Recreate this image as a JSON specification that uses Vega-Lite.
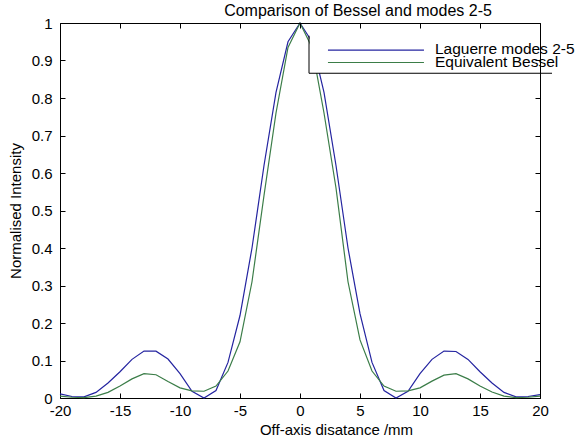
{
  "$schema": "https://vega.github.io/schema/vega-lite/v6.json",
  "width": 480,
  "height": 375,
  "autosize": "none",
  "padding": {"left": 60, "top": 23, "right": 36, "bottom": 47},
  "background": "white",
  "config": {
    "view": {"stroke": null},
    "font": "Liberation Sans",
    "axis": {
      "domainColor": "black", "domainWidth": 1, "tickColor": "black", "tickWidth": 1,
      "tickSize": -5, "grid": false, "labelColor": "black", "labelFontSize": 15,
      "titleColor": "black", "titleFontWeight": "normal", "titleFontSize": 15, "labelFont": "Liberation Sans", "titleFont": "Liberation Sans"
    }
  },
  "title": {"text": "Comparison of Bessel and modes 2-5", "fontSize": 16, "fontWeight": "normal", "color": "black", "font": "Liberation Sans", "anchor": "middle", "dx": 58, "offset": -3},
  "datasets": {
    "curves": [
    {"x": -20, "y": 0.011, "series": "Laguerre modes 2-5"},
    {"x": -19, "y": 0.004, "series": "Laguerre modes 2-5"},
    {"x": -18, "y": 0.003, "series": "Laguerre modes 2-5"},
    {"x": -17, "y": 0.015, "series": "Laguerre modes 2-5"},
    {"x": -16, "y": 0.04, "series": "Laguerre modes 2-5"},
    {"x": -15, "y": 0.07, "series": "Laguerre modes 2-5"},
    {"x": -14, "y": 0.103, "series": "Laguerre modes 2-5"},
    {"x": -13, "y": 0.125, "series": "Laguerre modes 2-5"},
    {"x": -12, "y": 0.125, "series": "Laguerre modes 2-5"},
    {"x": -11, "y": 0.104, "series": "Laguerre modes 2-5"},
    {"x": -10, "y": 0.065, "series": "Laguerre modes 2-5"},
    {"x": -9, "y": 0.018, "series": "Laguerre modes 2-5"},
    {"x": -8, "y": 0.0, "series": "Laguerre modes 2-5"},
    {"x": -7, "y": 0.02, "series": "Laguerre modes 2-5"},
    {"x": -6, "y": 0.095, "series": "Laguerre modes 2-5"},
    {"x": -5, "y": 0.22, "series": "Laguerre modes 2-5"},
    {"x": -4, "y": 0.4, "series": "Laguerre modes 2-5"},
    {"x": -3, "y": 0.62, "series": "Laguerre modes 2-5"},
    {"x": -2, "y": 0.815, "series": "Laguerre modes 2-5"},
    {"x": -1, "y": 0.95, "series": "Laguerre modes 2-5"},
    {"x": 0, "y": 1.0, "series": "Laguerre modes 2-5"},
    {"x": 1, "y": 0.95, "series": "Laguerre modes 2-5"},
    {"x": 2, "y": 0.815, "series": "Laguerre modes 2-5"},
    {"x": 3, "y": 0.62, "series": "Laguerre modes 2-5"},
    {"x": 4, "y": 0.4, "series": "Laguerre modes 2-5"},
    {"x": 5, "y": 0.225, "series": "Laguerre modes 2-5"},
    {"x": 6, "y": 0.095, "series": "Laguerre modes 2-5"},
    {"x": 7, "y": 0.02, "series": "Laguerre modes 2-5"},
    {"x": 8, "y": 0.0, "series": "Laguerre modes 2-5"},
    {"x": 9, "y": 0.018, "series": "Laguerre modes 2-5"},
    {"x": 10, "y": 0.065, "series": "Laguerre modes 2-5"},
    {"x": 11, "y": 0.103, "series": "Laguerre modes 2-5"},
    {"x": 12, "y": 0.125, "series": "Laguerre modes 2-5"},
    {"x": 13, "y": 0.124, "series": "Laguerre modes 2-5"},
    {"x": 14, "y": 0.103, "series": "Laguerre modes 2-5"},
    {"x": 15, "y": 0.07, "series": "Laguerre modes 2-5"},
    {"x": 16, "y": 0.04, "series": "Laguerre modes 2-5"},
    {"x": 17, "y": 0.015, "series": "Laguerre modes 2-5"},
    {"x": 18, "y": 0.003, "series": "Laguerre modes 2-5"},
    {"x": 19, "y": 0.004, "series": "Laguerre modes 2-5"},
    {"x": 20, "y": 0.009, "series": "Laguerre modes 2-5"},
    {"x": -20, "y": 0.005, "series": "Equivalent Bessel"},
    {"x": -19, "y": 0.002, "series": "Equivalent Bessel"},
    {"x": -18, "y": 0.001, "series": "Equivalent Bessel"},
    {"x": -17, "y": 0.005, "series": "Equivalent Bessel"},
    {"x": -16, "y": 0.015, "series": "Equivalent Bessel"},
    {"x": -15, "y": 0.032, "series": "Equivalent Bessel"},
    {"x": -14, "y": 0.051, "series": "Equivalent Bessel"},
    {"x": -13, "y": 0.065, "series": "Equivalent Bessel"},
    {"x": -12, "y": 0.062, "series": "Equivalent Bessel"},
    {"x": -11, "y": 0.044, "series": "Equivalent Bessel"},
    {"x": -10, "y": 0.027, "series": "Equivalent Bessel"},
    {"x": -9, "y": 0.019, "series": "Equivalent Bessel"},
    {"x": -8, "y": 0.018, "series": "Equivalent Bessel"},
    {"x": -7, "y": 0.032, "series": "Equivalent Bessel"},
    {"x": -6, "y": 0.072, "series": "Equivalent Bessel"},
    {"x": -5, "y": 0.15, "series": "Equivalent Bessel"},
    {"x": -4, "y": 0.31, "series": "Equivalent Bessel"},
    {"x": -3, "y": 0.54, "series": "Equivalent Bessel"},
    {"x": -2, "y": 0.76, "series": "Equivalent Bessel"},
    {"x": -1, "y": 0.935, "series": "Equivalent Bessel"},
    {"x": 0, "y": 1.0, "series": "Equivalent Bessel"},
    {"x": 1, "y": 0.935, "series": "Equivalent Bessel"},
    {"x": 2, "y": 0.76, "series": "Equivalent Bessel"},
    {"x": 3, "y": 0.56, "series": "Equivalent Bessel"},
    {"x": 4, "y": 0.31, "series": "Equivalent Bessel"},
    {"x": 5, "y": 0.155, "series": "Equivalent Bessel"},
    {"x": 6, "y": 0.072, "series": "Equivalent Bessel"},
    {"x": 7, "y": 0.032, "series": "Equivalent Bessel"},
    {"x": 8, "y": 0.018, "series": "Equivalent Bessel"},
    {"x": 9, "y": 0.019, "series": "Equivalent Bessel"},
    {"x": 10, "y": 0.027, "series": "Equivalent Bessel"},
    {"x": 11, "y": 0.045, "series": "Equivalent Bessel"},
    {"x": 12, "y": 0.061, "series": "Equivalent Bessel"},
    {"x": 13, "y": 0.065, "series": "Equivalent Bessel"},
    {"x": 14, "y": 0.051, "series": "Equivalent Bessel"},
    {"x": 15, "y": 0.032, "series": "Equivalent Bessel"},
    {"x": 16, "y": 0.016, "series": "Equivalent Bessel"},
    {"x": 17, "y": 0.005, "series": "Equivalent Bessel"},
    {"x": 18, "y": 0.001, "series": "Equivalent Bessel"},
    {"x": 19, "y": 0.002, "series": "Equivalent Bessel"},
    {"x": 20, "y": 0.005, "series": "Equivalent Bessel"}
    ],
    "one": [{}]
  },
  "layer": [
    {
      "data": {"name": "curves"},
      "mark": {"type": "line", "strokeWidth": 1.2},
      "encoding": {
        "x": {"field": "x", "type": "quantitative", "scale": {"domain": [-20, 20], "nice": false, "zero": false},
              "axis": {"orient": "bottom", "values": [-20, -15, -10, -5, 0, 5, 10, 15, 20], "labelExpr": "datum.value + ''", "labelPadding": 10, "title": "Off-axis disatance /mm", "titlePadding": 4, "titleX": 276, "labelFlush": false}},
        "y": {"field": "y", "type": "quantitative", "scale": {"domain": [0, 1], "nice": false},
              "axis": {"orient": "left", "values": [0, 0.1, 0.2, 0.3, 0.4, 0.5, 0.6, 0.7, 0.8, 0.9, 1], "labelExpr": "datum.value + ''", "labelPadding": 13, "title": "Normalised Intensity", "titlePadding": 8, "labelFlush": false}},
        "color": {"field": "series", "type": "nominal",
                  "scale": {"domain": ["Laguerre modes 2-5", "Equivalent Bessel"], "range": ["#2424a0", "#3b7d48"]},
                  "legend": null}
      }
    },
    {
      "data": {"name": "curves"},
      "mark": {"type": "line", "opacity": 0},
      "encoding": {
        "x": {"field": "x", "type": "quantitative", "axis": {"orient": "top", "values": [-20, -15, -10, -5, 0, 5, 10, 15, 20], "labels": false, "title": null, "zindex": 1}},
        "y": {"field": "y", "type": "quantitative", "axis": {"orient": "right", "values": [0, 0.1, 0.2, 0.3, 0.4, 0.5, 0.6, 0.7, 0.8, 0.9, 1], "labels": false, "title": null, "zindex": 1}},
        "detail": {"field": "series"}
      }
    },
    {
      "data": {"name": "one"},
      "mark": {"type": "rect", "fill": "white"},
      "encoding": {
        "x": {"datum": 0.8, "type": "quantitative", "axis": null},
        "x2": {"datum": 21.0},
        "y": {"datum": 0.866, "type": "quantitative", "axis": null},
        "y2": {"datum": 0.966}
      }
    },
    {
      "data": {"name": "one"},
      "mark": {"type": "rule", "color": "black", "strokeWidth": 1},
      "encoding": {
        "x": {"datum": 0.75, "type": "quantitative", "axis": null},
        "y": {"datum": 0.866, "type": "quantitative", "axis": null},
        "y2": {"datum": 0.966}
      }
    },
    {
      "data": {"name": "one"},
      "mark": {"type": "rule", "color": "black", "strokeWidth": 1},
      "encoding": {
        "x": {"datum": 0.75, "type": "quantitative", "axis": null},
        "x2": {"datum": 21.0},
        "y": {"datum": 0.866, "type": "quantitative", "axis": null}
      }
    },
    {
      "data": {"name": "one"},
      "mark": {"type": "rule", "color": "#2424a0", "strokeWidth": 1.2},
      "encoding": {
        "x": {"datum": 2.33, "type": "quantitative", "axis": null},
        "x2": {"datum": 10.33},
        "y": {"datum": 0.9275, "type": "quantitative", "axis": null}
      }
    },
    {
      "data": {"name": "one"},
      "mark": {"type": "rule", "color": "#3b7d48", "strokeWidth": 1.2},
      "encoding": {
        "x": {"datum": 2.33, "type": "quantitative", "axis": null},
        "x2": {"datum": 10.33},
        "y": {"datum": 0.8947, "type": "quantitative", "axis": null}
      }
    },
    {
      "data": {"name": "one"},
      "mark": {"type": "text", "align": "left", "baseline": "middle", "fontSize": 15.5, "font": "Liberation Sans", "color": "black"},
      "encoding": {
        "x": {"datum": 11.25, "type": "quantitative", "axis": null},
        "y": {"datum": 0.9295, "type": "quantitative", "axis": null},
        "text": {"value": "Laguerre modes 2-5"}
      }
    },
    {
      "data": {"name": "one"},
      "mark": {"type": "text", "align": "left", "baseline": "middle", "fontSize": 15.5, "font": "Liberation Sans", "color": "black"},
      "encoding": {
        "x": {"datum": 11.25, "type": "quantitative", "axis": null},
        "y": {"datum": 0.8967, "type": "quantitative", "axis": null},
        "text": {"value": "Equivalent Bessel"}
      }
    }
  ],
  "resolve": {"axis": {"x": "independent", "y": "independent"}}
}
